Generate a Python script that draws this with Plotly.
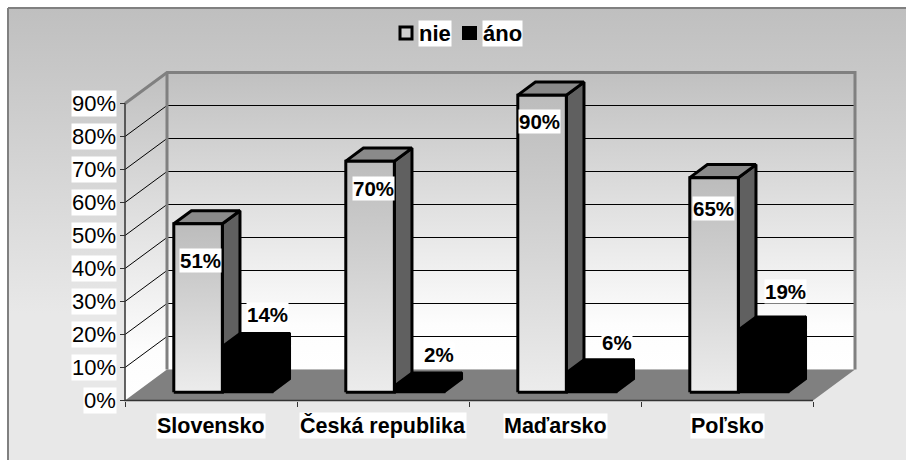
import plotly.graph_objects as go

categories = ["Slovensko", "Česká republika", "Maďarsko", "Poľsko"]
nie = [51, 70, 90, 65]
ano = [14, 2, 6, 19]
y_ticks = [0, 10, 20, 30, 40, 50, 60, 70, 80, 90]
series_names = ["nie", "áno"]

W, H = 906, 460
X0, Y0 = 125, 400.5    # pixel of front axis origin
PX_CAT, PX_PCT = 172, 3.3
DX, DY = 42 / PX_CAT, 31 / PX_PCT   # chart depth vector in axis units
xr = [-X0 / PX_CAT, (W - X0) / PX_CAT]
yr = [-(H - Y0) / PX_PCT, Y0 / PX_PCT]
BAR_W, D0, D1 = 0.291, 0.27, 0.69
INSET = 1.5 / PX_CAT
GRID_TOP = y_ticks[-1]
NCAT = len(categories)


def proj(x, y, d=0.0):
    return x + d * DX, y + d * DY


def poly(points, fill=None, line=None, lw=0, grad=None, closed=True):
    pts = list(points) + ([points[0]] if closed else [])
    kw = {}
    if fill or grad:
        kw["fill"] = "toself"
    if fill:
        kw["fillcolor"] = fill
    if grad:
        ys = [p[1] for p in points]
        # colour list runs from the bottom of the shape to its top
        kw["fillgradient"] = dict(type="vertical", start=min(ys), stop=max(ys),
                                  colorscale=[[s, c] for s, c in grad])
    fig.add_trace(go.Scatter(
        x=[p[0] for p in pts], y=[p[1] for p in pts], mode="lines",
        line=dict(color=line or "rgba(0,0,0,0)", width=lw, simplify=False),
        hoverinfo="skip", showlegend=False, **kw))


fig = go.Figure()

# outer panel
m = 8 / PX_CAT
poly([(xr[0] + m, yr[1] - 8 / PX_PCT), (xr[1] + 1, yr[1] - 8 / PX_PCT),
      (xr[1] + 1, yr[0] - 1), (xr[0] + m, yr[0] - 1)],
     line="#808080", lw=2,
     grad=[(0, "#e8e8e8"), (0.33, "#e8e8e8"), (1, "#bfbfbf")])

# walls
wall = [(0, "#ffffff"), (0.15, "#fdfdfd"), (1, "#c0c0c0")]
poly([proj(0, 0, 1), proj(NCAT, 0, 1), proj(NCAT, GRID_TOP, 1), proj(0, GRID_TOP, 1)], grad=wall)
poly([proj(0, 0), proj(0, 0, 1), proj(0, GRID_TOP, 1), proj(0, GRID_TOP)], grad=wall)

# gridlines on the back and side walls
for v in y_ticks[1:-1]:
    poly([proj(0, v), proj(0, v, 1), proj(NCAT, v, 1)], line="#000000", lw=1, closed=False)

# floor and wall frame
poly([proj(0, 0), proj(NCAT, 0), proj(NCAT, 0, 1), proj(0, 0, 1)], fill="#808080")
frame = "#808080"
poly([proj(0, GRID_TOP), proj(0, GRID_TOP, 1), proj(NCAT, GRID_TOP, 1), proj(NCAT, 0, 1)],
     line=frame, lw=3, closed=False)
poly([proj(0, GRID_TOP, 1), proj(0, 0, 1)], line=frame, lw=3, closed=False)

# front axis lines
poly([proj(0, GRID_TOP), proj(0, 0), proj(NCAT, 0)], line="#333333", lw=1.5, closed=False)


def bar3d(x0, x1, val, front, side, top, lw):
    poly([proj(x1, 0, D0), proj(x1, 0, D1), proj(x1, val, D1), proj(x1, val, D0)],
         fill=side, line="#000000", lw=lw)
    poly([proj(x0, val, D0), proj(x1, val, D0), proj(x1, val, D1), proj(x0, val, D1)],
         fill=top, line="#000000", lw=lw)
    if isinstance(front, list):
        poly([proj(x0, 0, D0), proj(x1, 0, D0), proj(x1, val, D0), proj(x0, val, D0)],
             grad=front, line="#000000", lw=lw)
    else:
        poly([proj(x0, 0, D0), proj(x1, 0, D0), proj(x1, val, D0), proj(x0, val, D0)],
             fill=front, line="#000000", lw=lw)


for i in range(NCAT):
    bar3d(i + 0.5 - BAR_W + INSET, i + 0.5, nie[i], [(0, "#ececec"), (1, "#bcbcbc")],
          "#606060", "#8a8a8a", 3)
    bar3d(i + 0.5, i + 0.5 + BAR_W, ano[i], "#000000", "#000000", "#000000", 2)

FONT = "Liberation Sans"
ann = []
for v in y_ticks:
    ann.append(dict(x=0, y=v, text=f"{v}%", xanchor="right", xshift=-8, yanchor="middle",
                    showarrow=False, bgcolor="#ffffff", borderpad=0,
                    font=dict(family=FONT, size=22, color="#000000")))
for i, c in enumerate(categories):
    ann.append(dict(x=i + 0.5, y=0, text=c, xanchor="center", yanchor="middle", yshift=-25,
                    showarrow=False, bgcolor="#ffffff", borderpad=0,
                    font=dict(family=FONT, size=21.5, color="#000000", weight="bold")))

# data labels: pixel nudges from the top front edge of each bar
nie_nudge = [(28, -37), (29, -27), (23, -26), (25, -31)]
ano_nudge = [(45, 31), (45, 31), (51, 30), (47, 38)]
for i in range(NCAT):
    x, y = proj(i + 0.5 - BAR_W, nie[i], D0)
    ann.append(dict(x=x, y=y, text=f"{nie[i]}%", xshift=nie_nudge[i][0], yshift=nie_nudge[i][1],
                    xanchor="center", yanchor="middle", showarrow=False, bgcolor="#ffffff", borderpad=0,
                    font=dict(family=FONT, size=20.5, color="#000000", weight="bold")))
    x, y = proj(i + 0.5, ano[i], D0)
    ann.append(dict(x=x, y=y, text=f"{ano[i]}%", xshift=ano_nudge[i][0], yshift=ano_nudge[i][1],
                    xanchor="center", yanchor="middle", showarrow=False, bgcolor="#ffffff", borderpad=0,
                    font=dict(family=FONT, size=20.5, color="#000000", weight="bold")))
for name, cx in zip(series_names, (435, 502)):
    ann.append(dict(xref="paper", yref="paper", x=cx / W, y=1 - 33 / H, text=name,
                    xanchor="center", yanchor="middle", showarrow=False, bgcolor="#ffffff", borderpad=0,
                    font=dict(family=FONT, size=22, color="#000000", weight="bold")))

shapes = [
    dict(type="rect", xref="paper", yref="paper", x0=400 / W, x1=412 / W, y0=1 - 39 / H, y1=1 - 27 / H,
         fillcolor="#d0d0d0", line=dict(color="#000000", width=3)),
    dict(type="rect", xref="paper", yref="paper", x0=463 / W, x1=476 / W, y0=1 - 39 / H, y1=1 - 27 / H,
         fillcolor="#000000", line=dict(color="#000000", width=2)),
]

fig.update_layout(
    width=W, height=H, margin=dict(l=0, r=0, t=0, b=0, pad=0), autosize=False,
    paper_bgcolor="#ffffff", plot_bgcolor="#ffffff", showlegend=False,
    annotations=ann, shapes=shapes,
    xaxis=dict(range=xr, showgrid=False, zeroline=False, showline=False, showticklabels=False,
               tickvals=list(range(NCAT + 1)), ticks="outside", ticklen=5, tickcolor="#333333",
               tickwidth=1, anchor="free", position=(H - Y0) / H, fixedrange=True),
    yaxis=dict(range=yr, showgrid=False, zeroline=False, showline=False, showticklabels=False,
               tickvals=y_ticks, ticks="outside", ticklen=5, tickcolor="#333333",
               tickwidth=1, anchor="free", position=X0 / W, fixedrange=True),
)
fig.write_html("out.html", config={"displayModeBar": False},
               post_script="document.body.style.margin='0';")
